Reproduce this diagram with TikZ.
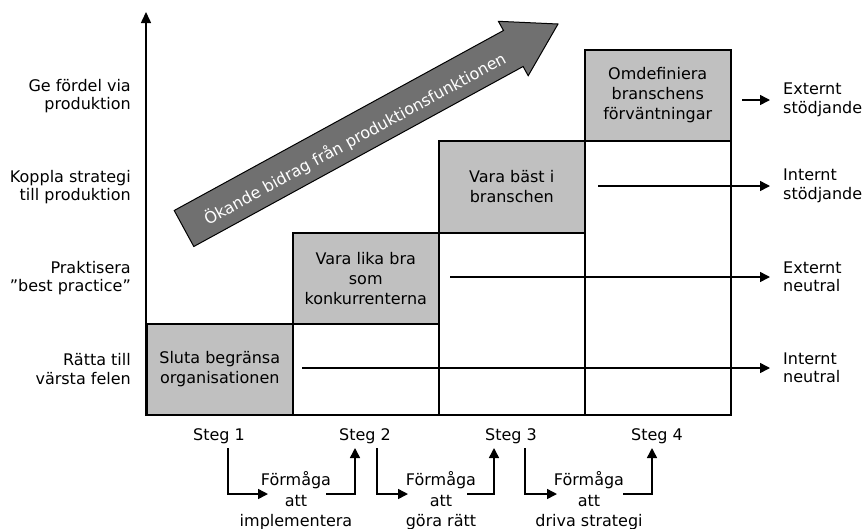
\documentclass[tikz,border=0pt]{standalone}
\usepackage{fontspec}
\setmainfont{DejaVu Sans}
\usetikzlibrary{arrows.meta}
\definecolor{boxgrey}{RGB}{192,192,192}
\definecolor{arrowgrey}{RGB}{112,112,112}
\begin{document}
\begin{tikzpicture}[x=1pt,y=-1pt,
  every node/.style={font=\fontsize{16}{20}\selectfont},
  cell/.style={draw, line width=1.5pt, minimum width=146pt, inner sep=0pt, anchor=north west, align=center},
  greycell/.style={cell, fill=boxgrey},
  whitecell/.style={cell, fill=white},
  leftlab/.style={anchor=east, align=right, inner sep=0pt, font=\fontsize{16}{18.5}\selectfont},
  rightlab/.style={anchor=west, align=left, inner sep=0pt, font=\fontsize{16}{18.5}\selectfont},
  steglab/.style={inner sep=0pt},
  abil/.style={align=center, inner sep=0pt, font=\fontsize{16}{20.5}\selectfont},
  arr/.style={line width=1.5pt, -{Triangle[length=10pt,width=10pt]}},
  bigarrow/.style={draw=black, line width=1pt, fill=arrowgrey}
]
\useasboundingbox (0,0) rectangle (864,528);

% cells
\node[whitecell, minimum height=91pt] (w2) at (292,323) {};
\node[whitecell, minimum height=182pt] (w3) at (438,232) {};
\node[whitecell, minimum height=274pt] (w4) at (584,140) {};
\node[greycell, minimum height=91pt] (g1) at (146,323) {Sluta begränsa\\organisationen};
\node[greycell, minimum height=91pt] (g2) at (292,232) {Vara lika bra\\som\\konkurrenterna};
\node[greycell, minimum height=92pt] (g3) at (438,140) {Vara bäst i\\branschen};
\node[greycell, minimum height=91pt] (g4) at (584,49) {Omdefiniera\\branschens\\förväntningar};

% vertical axis
\coordinate (axtop) at (146,12);
\draw[line width=1.5pt, -{Triangle[length=11pt,width=10pt]}] (g1.south west) -- (axtop);

% big arrow
\path[bigarrow] (174.2,210.5) -- (193.8,246.5) -- (523.1,66.5) -- (528.2,75.7)
  -- (558,24) -- (498.4,21.3) -- (503.5,30.5) -- cycle;
\node[text=white, rotate=28.6, inner sep=0pt] (bigtext) at (355,139) {Ökande bidrag från produktionsfunktionen};

% left labels
\node[leftlab] (l1) at (131,96) {Ge fördel via\\produktion};
\node[leftlab] (l2) at (131,187) {Koppla strategi\\till produktion};
\node[leftlab] (l3) at (131,278) {Praktisera\\"best practice"};
\node[leftlab] (l4) at (131,369) {Rätta till\\värsta felen};

% right labels
\node[rightlab] (r1) at (783,100) {Externt\\stödjande};
\node[rightlab] (r2) at (783,186) {Internt\\stödjande};
\node[rightlab] (r3) at (783,277) {Externt\\neutral};
\node[rightlab] (r4) at (783,368) {Internt\\neutral};

\coordinate (a1) at (742,100);
\coordinate (a2) at (598,186);
\coordinate (a3) at (450,277);
\coordinate (a4) at (302,368);
\draw[arr, shorten >=13pt] (a1) -- (a1 -| r1.west);
\draw[arr, shorten >=13pt] (a2) -- (a2 -| r2.west);
\draw[arr, shorten >=13pt] (a3) -- (a3 -| r3.west);
\draw[arr, shorten >=13pt] (a4) -- (a4 -| r4.west);

% steps
\node[steglab] (s1) at (219,436) {Steg 1};
\node[steglab] (s2) at (365,436) {Steg 2};
\node[steglab] (s3) at (511,436) {Steg 3};
\node[steglab] (s4) at (657,436) {Steg 4};

\node[abil] (f1) at (296,501) {Förmåga\\att\\implementera};
\node[abil] (f2) at (441,501) {Förmåga\\att\\göra rätt};
\node[abil] (f3) at (589,501) {Förmåga\\att\\driva strategi};

% connectors
\coordinate (d1) at (228,448); \coordinate (e1) at (268,494);
\coordinate (u1) at (326,494); \coordinate (t1) at (355,448);
\coordinate (d2) at (377,448); \coordinate (e2) at (408,494);
\coordinate (u2) at (467,494); \coordinate (t2) at (494,448);
\coordinate (d3) at (525,448); \coordinate (e3) at (557,494);
\coordinate (u3) at (623,494); \coordinate (t3) at (652,448);
\draw[arr] (d1) |- (e1);
\draw[arr] (u1) -| (t1);
\draw[arr] (d2) |- (e2);
\draw[arr] (u2) -| (t2);
\draw[arr] (d3) |- (e3);
\draw[arr] (u3) -| (t3);
\end{tikzpicture}
\end{document}
